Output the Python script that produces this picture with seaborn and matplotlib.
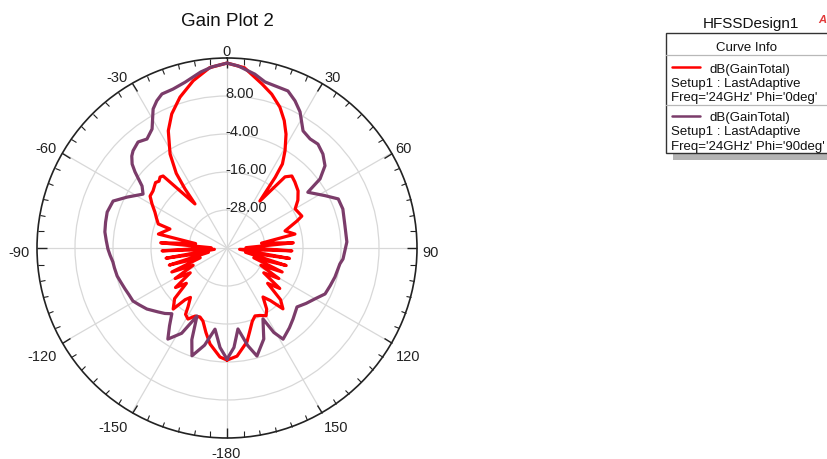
import numpy as np
import pandas as pd
import matplotlib
matplotlib.use("Agg")
import matplotlib.pyplot as plt
import seaborn as sns
from matplotlib.ticker import FixedLocator
from matplotlib.patches import Rectangle
from matplotlib.lines import Line2D

# ---------------- data ----------------
phi0_theta = [-180, -176.3, -170, -166, -161.8, -158.6, -155, -151.2, -148, -146.5,
              -143.5, -141, -138.6, -134, -131, -127.5, -124, -120.5, -117, -113.5,
              -110, -106.5, -103, -99.5, -96, -92.5, -89, -85.5, -82,
              -78.5, -71.6, -70.7, -67, -63.6, -59.5, -56, -52.4,
              -47.5, -45.5, -43.3, -41.6, -36, -35.4, -34.2, -32.6, -31.2, -26.6,
              -22.4, -17.3, -11.4, -5.5, 0, 5.5, 12, 16.2, 20.6, 24.2,
              27.4, 30.8, 33.4, 34.3, 35, 39.2, 42, 45.8, 51.2, 56,
              60.2, 63.5, 66.9, 68.9, 73.6, 78.4, 82, 85.5, 89, 92.5,
              96, 99.5, 103, 106.5, 110, 113.5, 117, 120.5, 124, 127.5,
              131, 134, 137.4, 140.5, 143.7, 147, 150,
              154, 157.6, 161, 165, 168, 174.7, 180]
phi0_gain = [-4.6, -5.5, -9.2, -12.5, -15.7, -16.6, -16.3, -14.4, -15.3, -17.7,
             -20.6, -19.0, -14.3, -17.0, -23.0, -19.5, -26.0, -21.0, -28.0, -21.0,
             -31.0, -21.0, -34.0, -20.5, -36.0, -19.5, -35.0, -19.0, -30.0,
             -17.9, -21.0, -17.0, -15.8, -14.6, -12.5, -10.7, -10.5,
             -9.4, -9.9, -9.2, -9.6, -22.8, -17.1, -11.5, -8.5, -5.3, 1.4,
             5.8, 9.9, 13.9, 17.2, 18.4, 17.2, 13.0, 10.6, 7.5, 4.1,
             0.5, -4.2, -8.2, -13.0, -21.9, -11.0, -9.4, -10.1, -11.2, -13.0,
             -15.2, -14.8, -14.3, -16.3, -20.9, -18.1, -29.0, -19.0, -34.0, -19.5,
             -36.0, -20.0, -34.0, -20.5, -31.0, -21.0, -28.0, -21.0, -26.0, -19.0,
             -23.0, -16.5, -13.9, -18.5, -20.8, -17.0, -15.3,
             -16.3, -16.8, -15.5, -12.5, -9.7, -5.7, -4.6]

phi90_theta = [-180, -176, -171.6, -167, -162, -159, -156.2, -152, -147, -143.5,
               -140, -136.5, -132.8, -127.3, -123, -119.4, -115.5, -111.9, -108, -104.3,
               -100, -97, -93.5, -90.5, -86.5, -82.5, -78, -73.3, -67.6, -63,
               -57.3, -53.9, -50.4, -48.5, -46, -44, -40, -36.3, -32.2, -28,
               -25.5, -22.9, -18.8, -14.2, -8.5, -4.7, 0, 3.5, 9.1, 12.9,
               16.5, 21.2, 24.8, 28.2, 33, 37.3, 41.2, 45.6, 50, 53.4,
               55.4, 61.9, 66.2, 71.4, 79.4, 87.1, 95.4, 98, 105, 110,
               115.1, 120, 125, 130.1, 137, 142, 148.4, 151, 153.1, 158,
               164.5, 168, 172.3, 176, 180]
phi90_gain = [-4.9, -8.5, -14.1, -8.5, -4.2, -9.0, -16.5, -9.5, -5.7, -9.5,
              -12.9, -11.5, -10.3, -8.2, -7.0, -5.9, -5.7, -5.3, -4.8, -4.2,
              -3.9, -3.7, -3.0, -2.4, -1.8, -1.1, -0.8, -0.5, -1.1, -4.6,
              -8.5, -6.8, -2.3, 0.0, 1.8, 2.7, 3.7, 2.7, 4.4, 9.7,
              11.5, 12.8, 13.0, 14.0, 16.2, 17.4, 18.4, 17.6, 15.6, 13.8,
              13.4, 13.2, 11.2, 8.8, 4.1, 3.3, 3.6, 2.4, 0.4, -3.4,
              -9.0, -4.9, -1.6, -1.4, -2.1, -2.1, -3.2, -4.0, -4.7, -5.3,
              -5.8, -7.9, -9.5, -11.1, -9.4, -8.0, -6.2, -9.5, -14.9, -9.0,
              -4.6, -8.5, -14.2, -8.5, -4.9]

curve_names = ["Phi='0deg'", "Phi='90deg'"]
curve_colors = ["#ff0000", "#7b3c6a"]
radial_ticks = [-28, -16, -4, 8]
radial_labels = ["-28.00", "-16.00", "-4.00", "8.00"]
r_min, r_max = -40, 20
angle_ticks = [0, 30, 60, 90, 120, 150, 180, 210, 240, 270, 300, 330]
angle_labels = ["0", "30", "60", "90", "120", "150", "-180", "-150", "-120", "-90", "-60", "-30"]
legend_lines = [["dB(GainTotal)", "Setup1 : LastAdaptive", "Freq='24GHz' Phi='0deg'"],
                ["dB(GainTotal)", "Setup1 : LastAdaptive", "Freq='24GHz' Phi='90deg'"]]

# ---------------- style ----------------
sns.set_style("white")
plt.rcParams["font.family"] = ["Liberation Sans", "DejaVu Sans"]

W, H = 827, 460
fig = plt.figure(figsize=(W / 100, H / 100), dpi=100)
fig.patch.set_facecolor("white")

cx, cy, R = 227, 249, 190
ax = fig.add_axes([(cx - R) / W, (H - cy - R) / H, 2 * R / W, 2 * R / H], projection="polar")
ax.set_theta_zero_location("N")
ax.set_theta_direction(-1)
ax.set_facecolor("white")

df = pd.concat([
    pd.DataFrame({"theta": np.deg2rad(phi0_theta), "gain": phi0_gain, "curve": curve_names[0]}),
    pd.DataFrame({"theta": np.deg2rad(phi90_theta), "gain": phi90_gain, "curve": curve_names[1]}),
], ignore_index=True)

sns.lineplot(data=df, x="theta", y="gain", hue="curve", hue_order=curve_names,
             palette=curve_colors, sort=False, estimator=None, linewidth=2.3,
             legend=False, ax=ax)
ax.set_xlabel("")
ax.set_ylabel("")
ax.set_ylim(r_min, r_max)

# grid
ax.set_yticks(radial_ticks)
ax.set_yticklabels([])
ax.set_xticks(np.deg2rad(angle_ticks))
ax.set_xticklabels([])
ax.xaxis.set_minor_locator(FixedLocator(np.deg2rad(np.arange(0, 360, 5))))
ax.grid(True, which="major", color="#d8d8d8", linewidth=0.9)
ax.grid(False, which="minor")
ax.spines["polar"].set_color("#222222")
ax.spines["polar"].set_linewidth(1.2)
ax.tick_params(axis="x", which="major", direction="in", length=7, width=1.0,
               color="#222222", bottom=False, top=True)
ax.tick_params(axis="x", which="minor", direction="in", length=4, width=0.8,
               color="#222222", bottom=False, top=True)
ax.tick_params(axis="y", length=0)

# angular labels
px2pt = 0.72
for a, lab in zip(angle_ticks, angle_labels):
    s, c = np.sin(np.deg2rad(a)), np.cos(np.deg2rad(a))
    ha = "left" if s > 0.3 else ("right" if s < -0.3 else "center")
    va = "bottom" if c > 0.3 else ("top" if c < -0.3 else "center")
    ax.annotate(lab, xy=(np.deg2rad(a), r_max), xycoords="data",
                xytext=((6 * s - 1) * px2pt, (4 * c - 4) * px2pt),
                textcoords="offset points", ha=ha, va=va, fontsize=10.5,
                color="#222222", annotation_clip=False)

# radial labels
for rv, lab in zip(radial_ticks, radial_labels):
    ax.annotate(lab, xy=(0, rv), xycoords="data", xytext=(-1.5 * px2pt, 2.5 * px2pt),
                textcoords="offset points", ha="left", va="center", fontsize=10.5,
                color="#222222", annotation_clip=False)

# title
fig.text(cx / W, 1 - 21 / H, "Gain Plot 2", ha="center", va="center", fontsize=13.5, color="#111111")

# ---------------- legend panel ----------------
def fx(x):
    return x / W

def fy(y):
    return 1 - y / H

fig.text(fx(751), fy(24), "HFSSDesign1", ha="center", va="center", fontsize=11, color="#111111")
fig.text(fx(818), fy(20), "A", ha="left", va="center", fontsize=8, color="#e23a3a",
         fontstyle="italic", fontweight="bold")

bx0, by0, bx1, by1 = 666, 34, 829, 154
fig.patches.append(Rectangle((fx(bx0 + 7), fy(by1 + 7)), fx(bx1 - bx0), (by1 - by0) / H,
                             transform=fig.transFigure, facecolor="#b4b4b4", edgecolor="none", zorder=1))
fig.patches.append(Rectangle((fx(bx0), fy(by1)), fx(bx1 - bx0), (by1 - by0) / H,
                             transform=fig.transFigure, facecolor="white", edgecolor="#333333",
                             linewidth=1.0, zorder=2))
fig.text(fx(747), fy(48), "Curve Info", ha="center", va="center", fontsize=9.5, color="#111111", zorder=3)
for ysep in (56, 106):
    fig.lines.append(Line2D([fx(bx0), fx(bx1)], [fy(ysep), fy(ysep)], transform=fig.transFigure,
                            color="#b8b8b8", linewidth=0.9, zorder=3))

row_tops = [68, 117]
for i, (lines3, col) in enumerate(zip(legend_lines, curve_colors)):
    y0 = row_tops[i]
    fig.lines.append(Line2D([fx(672), fx(700)], [fy(y0), fy(y0)], transform=fig.transFigure,
                            color=col, linewidth=1.8, zorder=3))
    fig.text(fx(709), fy(y0 + 1.5), lines3[0], ha="left", va="center", fontsize=9.5, color="#111111", zorder=3)
    fig.text(fx(671), fy(y0 + 15.5), lines3[1], ha="left", va="center", fontsize=9.5, color="#111111", zorder=3)
    fig.text(fx(671), fy(y0 + 30), lines3[2], ha="left", va="center", fontsize=9.5, color="#111111", zorder=3)

fig.savefig("out.png", dpi=100, facecolor="white")
